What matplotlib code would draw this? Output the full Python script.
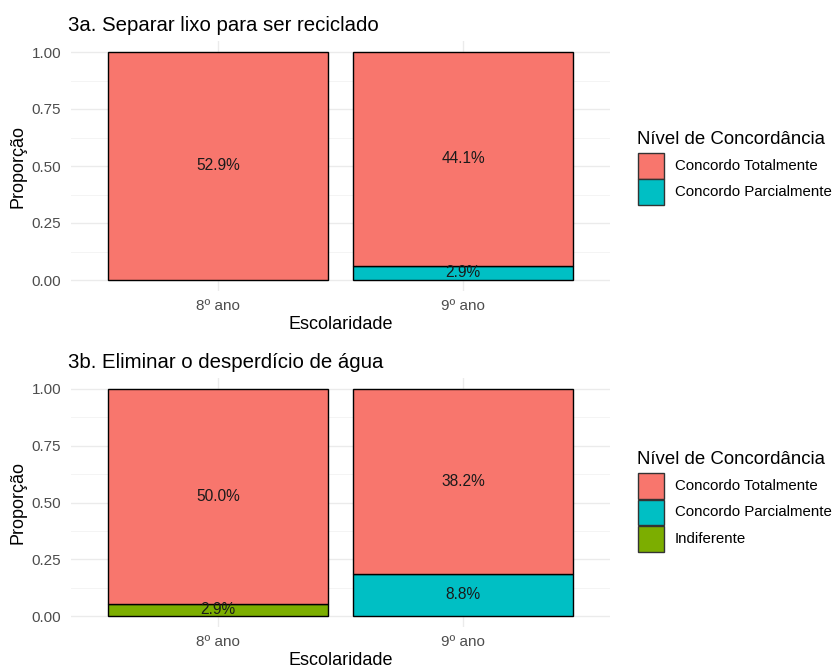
import matplotlib
matplotlib.use("Agg")
import matplotlib.pyplot as plt
from matplotlib.patches import Rectangle
import numpy as np

plt.rcParams['font.family'] = ['Liberation Sans', 'DejaVu Sans']

categories = ['8º ano', '9º ano']
levels = ['Concordo Totalmente', 'Concordo Parcialmente', 'Indiferente']
colors = {'Concordo Totalmente': '#F8766D', 'Concordo Parcialmente': '#00BFC4', 'Indiferente': '#7CAE00'}

# percentages of total sample, per category
top_title = '3a. Separar lixo para ser reciclado'
top_tot = [52.9, 44.1]
top_parc = [0.0, 2.9]
top_ind = [0.0, 0.0]

bot_title = '3b. Eliminar o desperdício de água'
bot_tot = [50.0, 38.2]
bot_parc = [0.0, 8.8]
bot_ind = [2.9, 0.0]

W, H = 835, 670
fig = plt.figure(figsize=(W / 100, H / 100), dpi=100)

def fx(px):
    return px / W

def fy(py):
    return 1 - py / H

def panel(top_px, bottom_px, title, tot, parc, ind, legend_levels, leg_top):
    ax = fig.add_axes([fx(71), fy(bottom_px), fx(610) - fx(71), fy(top_px) - fy(bottom_px)])
    x = np.arange(len(categories))
    series = [('Indiferente', ind), ('Concordo Parcialmente', parc), ('Concordo Totalmente', tot)]
    totals = np.array(tot) + np.array(parc) + np.array(ind)
    base = np.zeros(len(categories))
    for name, vals in series:
        vals = np.array(vals)
        prop = vals / totals
        for i in range(len(categories)):
            if vals[i] > 0:
                ax.bar(x[i], prop[i], bottom=base[i], width=0.9, color=colors[name],
                       edgecolor='black', linewidth=1.0, zorder=2)
                ax.text(x[i], base[i] + prop[i] / 2, f"{vals[i]:.1f}%", ha='center', va='center',
                        fontsize=11.2, color='#1a1a1a', zorder=3)
        base = base + prop
    ax.set_xlim(-0.6, 1.6)
    ax.set_ylim(-0.05, 1.05)
    ax.set_xticks(x)
    ax.set_xticklabels(categories)
    ax.set_yticks([0, 0.25, 0.5, 0.75, 1.0])
    ax.set_yticklabels(['0.00', '0.25', '0.50', '0.75', '1.00'])
    ax.set_yticks([0.125, 0.375, 0.625, 0.875], minor=True)
    ax.grid(True, which='major', color='#EBEBEB', linewidth=1.0, zorder=0)
    ax.grid(True, which='minor', axis='y', color='#F2F2F2', linewidth=0.6, zorder=0)
    ax.set_axisbelow(True)
    for s in ax.spines.values():
        s.set_visible(False)
    ax.tick_params(which='both', length=0, labelsize=11, labelcolor='#4D4D4D')
    ax.tick_params(axis='y', pad=7)
    ax.tick_params(axis='x', pad=5.5)
    ax.set_xlabel('Escolaridade', fontsize=13, labelpad=2)
    ax.set_ylabel('Proporção', fontsize=13, labelpad=4)
    ax.set_title(title, loc='left', fontsize=14.7, pad=7, x=-0.005)
    # legend
    fig.text(fx(637), fy(leg_top), 'Nível de Concordância', fontsize=13.4, ha='left', va='center')
    k0 = leg_top + 13
    for j, name in enumerate(legend_levels):
        ytop = k0 + j * 26.5
        fig.patches.append(Rectangle((fx(638), fy(ytop + 25.5)), fx(26), fy(ytop) - fy(ytop + 25.5),
                                     transform=fig.transFigure, facecolor=colors[name],
                                     edgecolor='#333333', linewidth=1.0))
        fig.text(fx(675), fy(ytop + 13), name, fontsize=10.8, ha='left', va='center')
    return ax

panel(40.6, 291.4, top_title, top_tot, top_parc, top_ind,
      ['Concordo Totalmente', 'Concordo Parcialmente'], 140)
panel(377.6, 627.4, bot_title, bot_tot, bot_parc, bot_ind,
      ['Concordo Totalmente', 'Concordo Parcialmente', 'Indiferente'], 460)

fig.savefig('out.png', dpi=100, facecolor='white')
